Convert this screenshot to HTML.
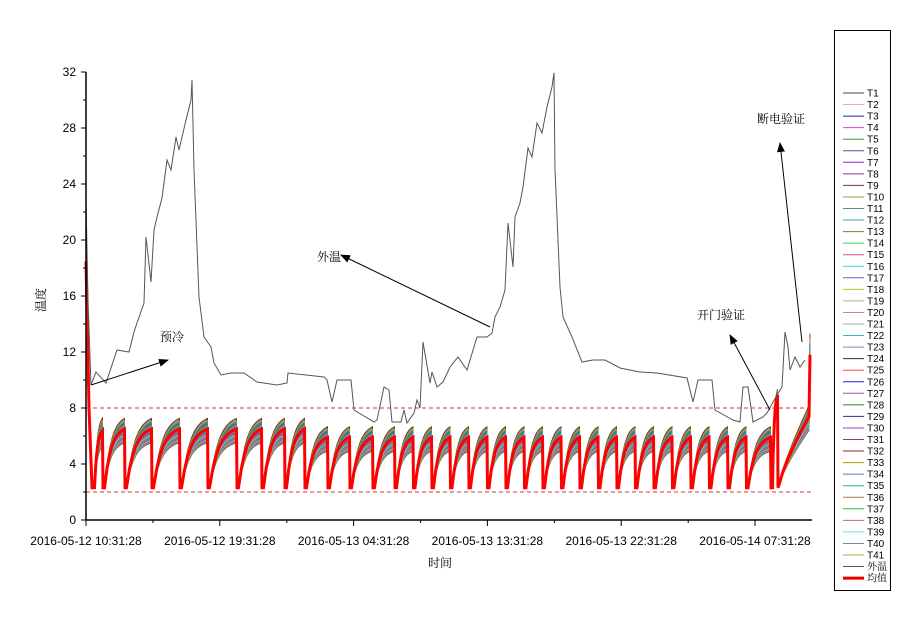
<!DOCTYPE html>
<html><head><meta charset="utf-8"><style>
body{margin:0;background:#fff;}
svg text{font-family:"Liberation Sans","Noto Sans CJK SC",sans-serif;}
.cn{font-family:"Liberation Serif","Noto Serif CJK SC",serif;}
</style></head><body>
<svg id="s" width="900" height="625" xmlns="http://www.w3.org/2000/svg">
<defs><marker id="ah" markerWidth="10" markerHeight="8" refX="9" refY="4" orient="auto" markerUnits="userSpaceOnUse"><path d="M0,0 L10,4 L0,8 z" fill="#000"/></marker></defs>
<g id="data"></g>
<line x1="86" y1="408" x2="812" y2="408" stroke="#d33" stroke-width="1" stroke-dasharray="4,3"/>
<line x1="86" y1="492" x2="812" y2="492" stroke="#d33" stroke-width="1" stroke-dasharray="4,3"/>
<polyline id="out" fill="none" stroke="#555" stroke-width="1"/>
<line x1="86" y1="72" x2="86" y2="520" stroke="#000" stroke-width="1.5"/>
<line x1="86" y1="520" x2="812" y2="520" stroke="#000" stroke-width="1.5"/>
<g id="ax" font-size="12"></g>
<text x="440" y="567" font-size="12" class="cn" text-anchor="middle">时间</text>
<text x="45" y="300" font-size="12" class="cn" text-anchor="middle" transform="rotate(-90 45 300)">温度</text>
<line x1="91" y1="385" x2="168" y2="360" stroke="#000" marker-end="url(#ah)"/>
<text x="160" y="341" font-size="12" class="cn">预冷</text>
<line x1="490" y1="327" x2="341" y2="255" stroke="#000" marker-end="url(#ah)"/>
<text x="317" y="261" font-size="12" class="cn">外温</text>
<line x1="770" y1="410" x2="730" y2="335" stroke="#000" marker-end="url(#ah)"/>
<text x="697" y="319" font-size="12" class="cn">开门验证</text>
<line x1="802" y1="342" x2="780" y2="143" stroke="#000" marker-end="url(#ah)"/>
<text x="757" y="123" font-size="12" class="cn">断电验证</text>
<rect x="834.5" y="30.5" width="56" height="560" fill="#fff" stroke="#000"/>
<g id="leg" font-size="10"></g>
</svg>
<script>
var NS="http://www.w3.org/2000/svg";
function el(t,a,p){var e=document.createElementNS(NS,t);for(var k in a)e.setAttribute(k,a[k]);p.appendChild(e);return e;}
var ax=document.getElementById('ax');
function Y(v){return 520-v*14;}
for(var v=0;v<=32;v+=2){var y=Y(v);el('line',{x1:v%4?83:81,y1:y,x2:86,y2:y,stroke:'#000'},ax);
 if(v%4==0){var t=el('text',{x:76,y:y+4,'text-anchor':'end'},ax);t.textContent=v;}}
var xl=["2016-05-12 10:31:28","2016-05-12 19:31:28","2016-05-13 04:31:28","2016-05-13 13:31:28","2016-05-13 22:31:28","2016-05-14 07:31:28"];
for(var i=0;i<6;i++){var x=86+i*133.8;el('line',{x1:x,y1:520,x2:x,y2:526,stroke:'#000'},ax);
 if(i<5)el('line',{x1:x+67,y1:520,x2:x+67,y2:523,stroke:'#000'},ax);
 var t=el('text',{x:x,y:545,'text-anchor':'middle'},ax);t.textContent=xl[i];}
var cols=["#444","#f0a0e0","#2020c0","#e040d0","#30a030","#5050a0","#9020e0","#903090","#803030","#a0a040","#6080a0","#40a0a0","#907040","#30d060","#e05090","#40d0e0","#6060c0","#c0c030","#b0b0b0","#c09090","#90b090","#40b0d0","#7090b0","#333","#ff4040","#2020e0","#c040c0","#308030","#303080","#9040d0","#804080","#902020","#a0a000","#5080c0","#30b0a0","#a08050","#20c040","#c060a0","#60e0e0","#8080a0","#a0b040"];
var leg=document.getElementById('leg');
var names=[];for(var i=1;i<=41;i++)names.push("T"+i);names.push("外温","均值");
var lc=cols.concat(["#555","#e00"]);
for(var i=0;i<43;i++){var y=93+i*11.55;el('line',{x1:843,y1:y,x2:864,y2:y,stroke:lc[i],'stroke-width':i==42?3:1},leg);
 var t=el('text',{x:867,y:y+3.5},leg);t.textContent=names[i];if(i>40)t.setAttribute('class','cn');}
var op=[[86,200],[88,300],[91,385],[96,372],[106,383],[117,350],[129,352],[134,332],[137,323],[144,303],[146,237],[151,282],[154,230],[157,217],[162,198],[167,160],[171,170],[176,137],[179,150],[186,120],[191,100],[192,80],[194,170],[199,297],[204,337],[211,347],[214,363],[221,375],[231,373],[244,373],[257,382],[277,385],[287,383],[288,373],[324,377],[327,380],[332,402],[337,380],[351,380],[354,410],[374,422],[377,420],[384,387],[389,390],[392,422],[401,422],[404,410],[407,423],[414,413],[417,400],[420,408],[423,342],[430,383],[432,372],[437,387],[443,382],[450,367],[458,357],[467,370],[477,337],[487,337],[492,333],[495,317],[500,307],[505,290],[508,223],[513,267],[515,217],[520,203],[523,187],[528,148],[532,157],[537,123],[542,133],[547,107],[552,87],[554,73],[555,170],[560,287],[563,317],[572,337],[582,362],[593,360],[605,360],[620,368],[640,372],[657,373],[687,378],[693,402],[698,380],[712,380],[715,410],[733,420],[740,422],[743,387],[748,387],[753,422],[763,417],[767,413],[777,395],[782,387],[785,332],[788,347],[790,370],[795,357],[800,367],[805,360]];
document.getElementById('out').setAttribute('points',op.map(function(p){return p.join(',')}).join(' '));
var drops=[93,103,125,152,180,208,237,262,285,305,328,350,373,395];
for(var x=413.5;x<760;x+=18.5)drops.push(x);
drops.push(771,778);
var g=document.getElementById('data');
function series(k,off,wid,col){
 var pts=[[86,Y(18.5+off*0.3)],[89,Y(8)],[92,Y(2.3)]];
 for(var i=0;i<drops.length-1;i++){var a=drops[i],b=drops[i+1],L=b-a;
  var pk=(i<9?6.6:6.0)+off; if(i==drops.length-2)pk=9+off*0.5; if(i==0)pk=6.5+off*1.2;
  var lo=2.3+Math.abs(off)*0.1;
  pts.push([a+1.5,Y(lo)]);
  for(var s=1;s<=8;s++){var f=s/8;var v=lo+(pk-lo)*(1-Math.exp(-3*f))/(1-Math.exp(-3));pts.push([a+1.5+f*(L-2),Y(v)]);}
  pts.push([b,Y(lo)]);}
 var a=drops[drops.length-1];pts.push([a+1,Y(2.5)]);
 for(var s=1;s<=8;s++){var f=s/8;pts.push([a+1+f*30,Y(2.5+(5+off)*Math.pow(f,0.8))]);}
 pts.push([810,Y(12+off*2)]);
 el('polyline',{points:pts.map(function(p){return p[0].toFixed(1)+','+p[1].toFixed(1)}).join(' '),fill:'none',stroke:col,'stroke-width':wid},g);
}
for(var k=0;k<41;k++){var off=((k*37)%41)/41*1.8-1.1;series(k,off,0.9,cols[k]);}
series(99,-0.1,3,'#f00');
</script>
</body></html>
